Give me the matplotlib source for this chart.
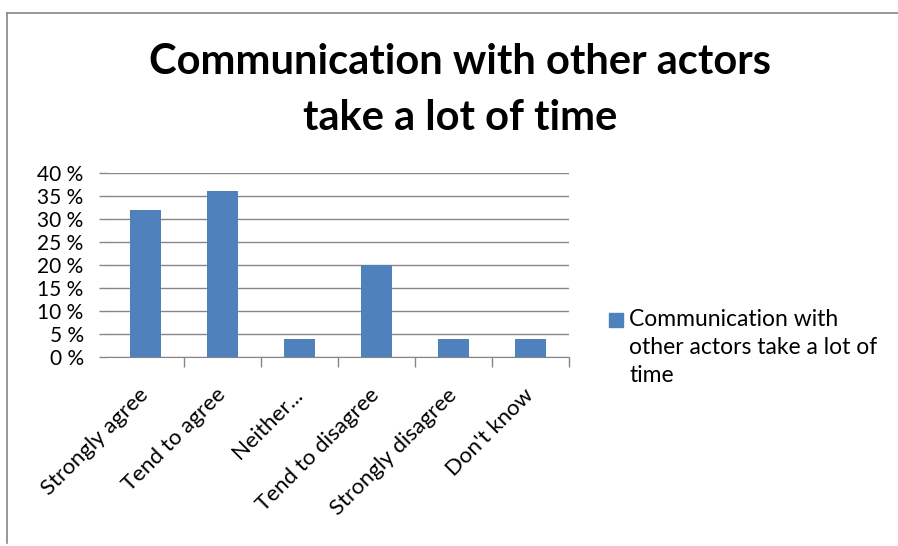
import matplotlib
matplotlib.use('agg')
import matplotlib.pyplot as plt
from matplotlib.lines import Line2D
from matplotlib.patches import Rectangle

# chart data
categories = ['Strongly agree', 'Tend to agree', 'Neither...', 'Tend to disagree',
              'Strongly disagree', "Don't know"]
values = [32, 36, 4, 20, 4, 4]
y_ticks = [0, 5, 10, 15, 20, 25, 30, 35, 40]
y_tick_labels = ['%d %%' % v for v in y_ticks]
series_name = 'Communication with\nother actors take a lot of\ntime'
title = 'Communication with other actors\ntake a lot of time'

bar_color = '#4F81BD'
grid_color = '#868686'

plt.rcParams['font.family'] = ['Lato', 'DejaVu Sans']

W, H = 898, 546
fig = plt.figure(figsize=(W / 100, H / 100), dpi=100)
ax = fig.add_axes([107 / W, 1 - 357 / H, 462 / W, 184 / H])

x = list(range(len(categories)))
ax.bar(x, values, width=0.41, color=bar_color, zorder=3)

ax.set_ylim(0, 40)
ax.set_xlim(-0.5, len(categories) - 0.5)
ax.set_yticks(y_ticks)
ax.set_yticklabels(y_tick_labels, fontsize=15)
ax.tick_params(axis='y', length=5.8, color=grid_color, width=1, pad=11)
ax.yaxis.grid(True, color=grid_color, linewidth=1)
ax.set_axisbelow(True)

# category boundary ticks on the x axis
ax.set_xticks([i + 0.5 for i in range(len(categories))])
ax.set_xticklabels([])
ax.tick_params(axis='x', which='major', length=7, color=grid_color, width=1)
ax.set_xticks(x, minor=True)
ax.set_xticklabels(categories, minor=True, rotation=45, ha='right', va='center',
                   rotation_mode='anchor', fontsize=16)
ax.tick_params(axis='x', which='minor', length=0, pad=25)

for side in ['top', 'right', 'left']:
    ax.spines[side].set_visible(False)
ax.spines['bottom'].set_color(grid_color)

fig.text(460 / W, 1 - 90 / H, title, ha='center', va='center', fontsize=30,
         fontweight='bold', linespacing=1.56)

# legend: square aligned with the first line of the wrapped series name
fig.add_artist(Rectangle((609 / W, 1 - 327 / H), 14 / W, 14 / H,
                         transform=fig.transFigure, color=bar_color))
fig.text(629 / W, 1 - 309 / H, series_name, ha='left', va='top', fontsize=16.5,
         linespacing=1.42)

# outer chart border (partially cropped in the original)
fig.add_artist(Line2D([7 / W, 7 / W], [1 - 13 / H, 1 - 543 / H],
                      transform=fig.transFigure, color=grid_color, linewidth=1.2))
fig.add_artist(Line2D([7 / W, 1.0], [1 - 13 / H, 1 - 13 / H],
                      transform=fig.transFigure, color=grid_color, linewidth=1.2))

fig.savefig('out.png', dpi=100)
